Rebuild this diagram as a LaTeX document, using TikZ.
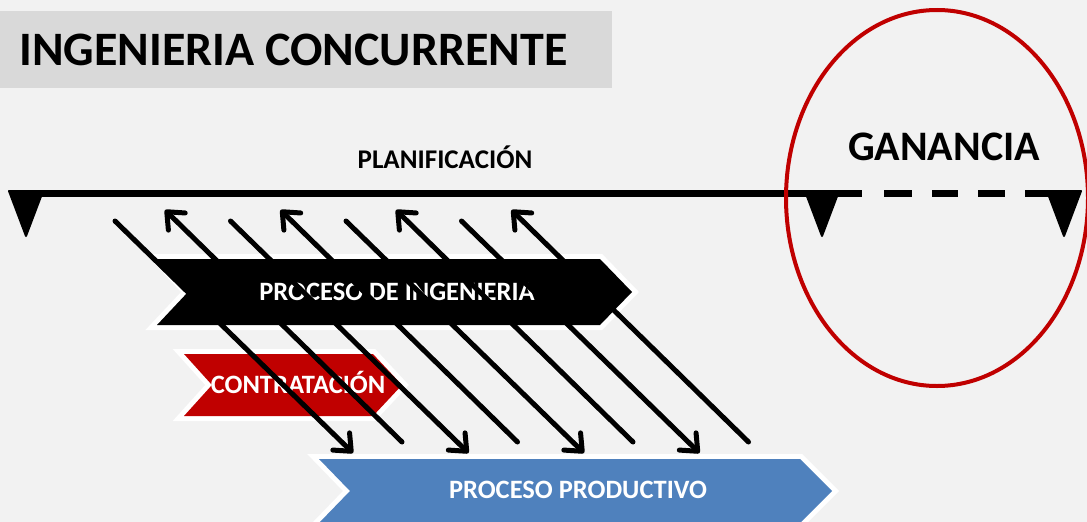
\documentclass[tikz,border=0pt]{standalone}
\usepackage{fontspec}
\setmainfont{Carlito}
\usetikzlibrary{arrows.meta,shapes.geometric}
\definecolor{bg}{HTML}{F2F2F2}
\definecolor{titlegray}{HTML}{D9D9D9}
\definecolor{chevred}{HTML}{C00000}
\definecolor{chevblue}{HTML}{4F81BD}
\newcommand\chevshape[7]{%
  \draw[white,line width=10,line join=miter,miter limit=6]
    (#1,#5) -- (#3,#5) -- (#4,{(#5+#6)/2}) -- (#3,#6) -- (#1,#6) -- (#2,{(#5+#6)/2}) -- cycle;
  \fill[#7]
    (#1,#5) -- (#3,#5) -- (#4,{(#5+#6)/2}) -- (#3,#6) -- (#1,#6) -- (#2,{(#5+#6)/2}) -- cycle;
}
\tikzset{
  wtext/.style={anchor=base, text=white, inner sep=0pt, font=\fontsize{26.5}{30}\selectfont\bfseries},
  conn/.style={line width=5, line cap=round, line join=round},
  arr/.style={conn, -{Straight Barb[length=14pt,width=24pt,line cap=round,line join=round]}},
  marker/.style={fill=black, draw=black, line width=2, line join=round},
}
\begin{document}
\begin{tikzpicture}[x=1pt,y=-1pt]
\useasboundingbox (0,0) rectangle (1087,522);
\fill[bg] (0,0) rectangle (1087,522);
% title
\fill[titlegray] (0,11) rectangle (612,88);
\node[anchor=base west, inner sep=0pt, font=\fontsize{48}{56}\selectfont\bfseries] (title) at (19,65) {INGENIERIA CONCURRENTE};
% planning line
\node[anchor=base, inner sep=0pt, font=\fontsize{27}{30}\selectfont\bfseries] (plan) at (445,168) {PLANIFICACIÓN};
\coordinate (lstart) at (12,193);
\coordinate (lend) at (1080,193);
\draw[line width=7, dash pattern=on 850 off 22 on 28 off 20 on 26 off 20 on 27 off 20 on 55] (lstart) -- (lend);
\filldraw[marker] (9,191) -- (43,191) -- (26,236) -- cycle;
\filldraw[marker] (805,191) -- (839,191) -- (822,236) -- cycle;
\filldraw[marker] (1047,191) -- (1081,191) -- (1064,236) -- cycle;
\node[anchor=base, inner sep=0pt, font=\fontsize{42}{48}\selectfont\bfseries] (gan) at (944,160) {GANANCIA};
% chevrons
\chevshape{157}{188}{600}{632}{259}{325}{black}
\chevshape{184}{212}{373}{402}{354}{416}{chevred}
\chevshape{319}{350}{800}{832}{459}{523}{chevblue}
\node[wtext] (ing) at (397,300) {PROCESO DE INGENIERIA};
\node[wtext] (con) at (298,393) {CONTRATACIÓN};
\node[wtext] (prod) at (578,498) {PROCESO PRODUCTIVO};
% diagonal arrows
\foreach \k in {0,1,2,3}{
  \coordinate (ds\k) at ({115+115.5*\k},221);
  \coordinate (de\k) at ({353+115.5*\k},453);
  \coordinate (us\k) at ({402+115.5*\k},442);
  \coordinate (ue\k) at ({165+115.5*\k},210);
  \draw[arr] (ds\k) -- (de\k);
  \draw[arr] (us\k) -- (ue\k);
}
% ellipse
\node[draw=chevred, line width=4, ellipse, minimum width=302, minimum height=376, inner sep=0pt] (ell) at (937,198) {};
\end{tikzpicture}
\end{document}
